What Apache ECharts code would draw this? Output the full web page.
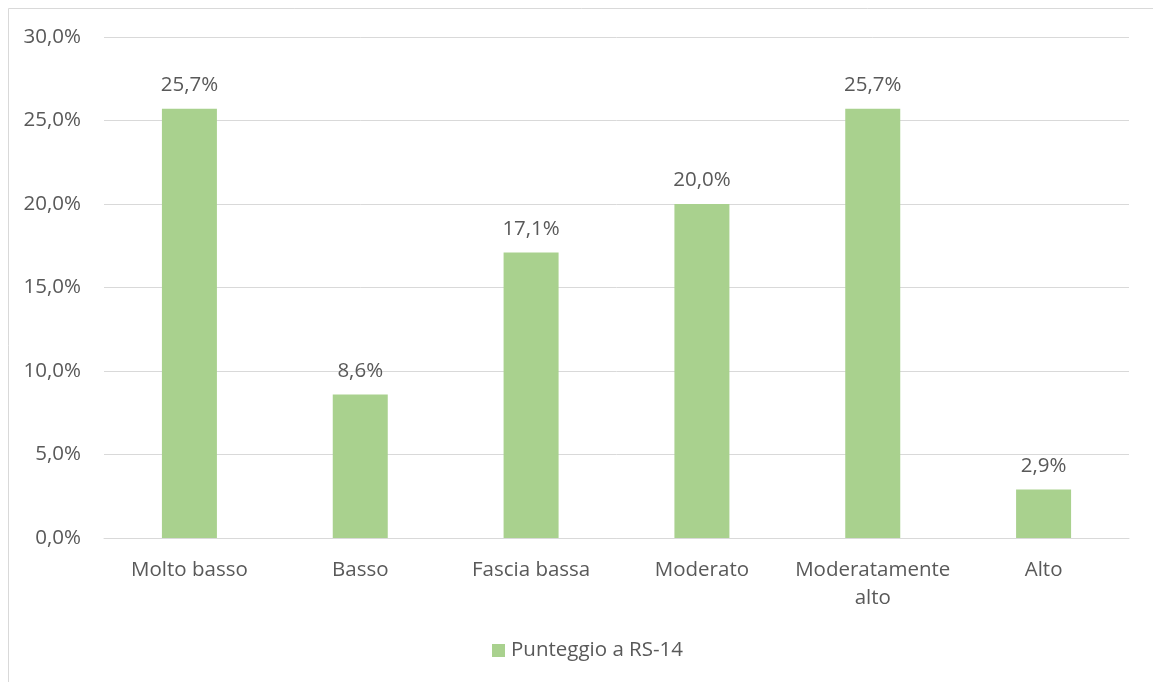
<!DOCTYPE html>
<html>
<head>
<meta charset="utf-8">
<title>Punteggio a RS-14</title>
<script src="https://cdn.jsdelivr.net/npm/echarts@6/dist/echarts.min.js"></script>
<style>
  html, body { margin: 0; padding: 0; background: #ffffff; }
  #chart { width: 1153px; height: 682px; }
</style>
</head>
<body>
<div id="chart"></div>
<script>
// Categories and percentage values of the RS-14 score distribution
const categories = ['Molto basso', 'Basso', 'Fascia bassa', 'Moderato', 'Moderatamente\nalto', 'Alto'];
const values = [25.7, 8.6, 17.1, 20.0, 25.7, 2.9];
const seriesName = 'Punteggio a RS-14';
const yTicks = { min: 0, max: 30, interval: 5 };

const textColor = '#595959';
const gridColor = '#d9d9d9';
const barColor = '#a9d18e';
const fontFamily = '"Open Sans", "Noto Sans", sans-serif';
const fontSize = 20.5;

const fmt = v => v.toFixed(1).replace('.', ',') + '%';

const chart = echarts.init(document.getElementById('chart'), null, { renderer: 'canvas' });

chart.setOption({
  animation: false,
  backgroundColor: '#ffffff',
  textStyle: { fontFamily: fontFamily, color: textColor },
  graphic: [{
    type: 'rect',
    shape: { x: 8.5, y: 8.5, width: 1300, height: 800 },
    style: { fill: 'none', stroke: gridColor, lineWidth: 1 },
    silent: true
  }],
  grid: { left: 104, right: 24, top: 37, bottom: 144, containLabel: false },
  legend: {
    show: true,
    bottom: 16,
    left: 487,
    itemWidth: 13,
    itemHeight: 13,
    itemGap: 10,
    icon: 'rect',
    textStyle: { fontFamily: fontFamily, fontSize: fontSize, color: textColor, padding: [0, 0, 0, 1] },
    data: [seriesName]
  },
  xAxis: {
    type: 'category',
    data: categories,
    axisLine: { show: true, lineStyle: { color: gridColor, width: 1 } },
    axisTick: { show: false },
    axisLabel: {
      color: textColor,
      fontFamily: fontFamily,
      fontSize: fontSize,
      lineHeight: 28,
      margin: 18,
      interval: 0
    }
  },
  yAxis: {
    type: 'value',
    min: yTicks.min,
    max: yTicks.max,
    interval: yTicks.interval,
    axisLine: { show: false },
    axisTick: { show: false },
    splitLine: { lineStyle: { color: gridColor, width: 1 } },
    axisLabel: {
      color: textColor,
      fontFamily: fontFamily,
      fontSize: fontSize,
      margin: 23,
      formatter: v => fmt(v)
    }
  },
  series: [{
    name: seriesName,
    type: 'bar',
    data: values,
    barWidth: 55,
    itemStyle: { color: barColor },
    label: {
      show: true,
      position: 'top',
      distance: 13,
      color: textColor,
      fontFamily: fontFamily,
      fontSize: fontSize,
      formatter: p => fmt(p.value)
    }
  }]
});
</script>
</body>
</html>
